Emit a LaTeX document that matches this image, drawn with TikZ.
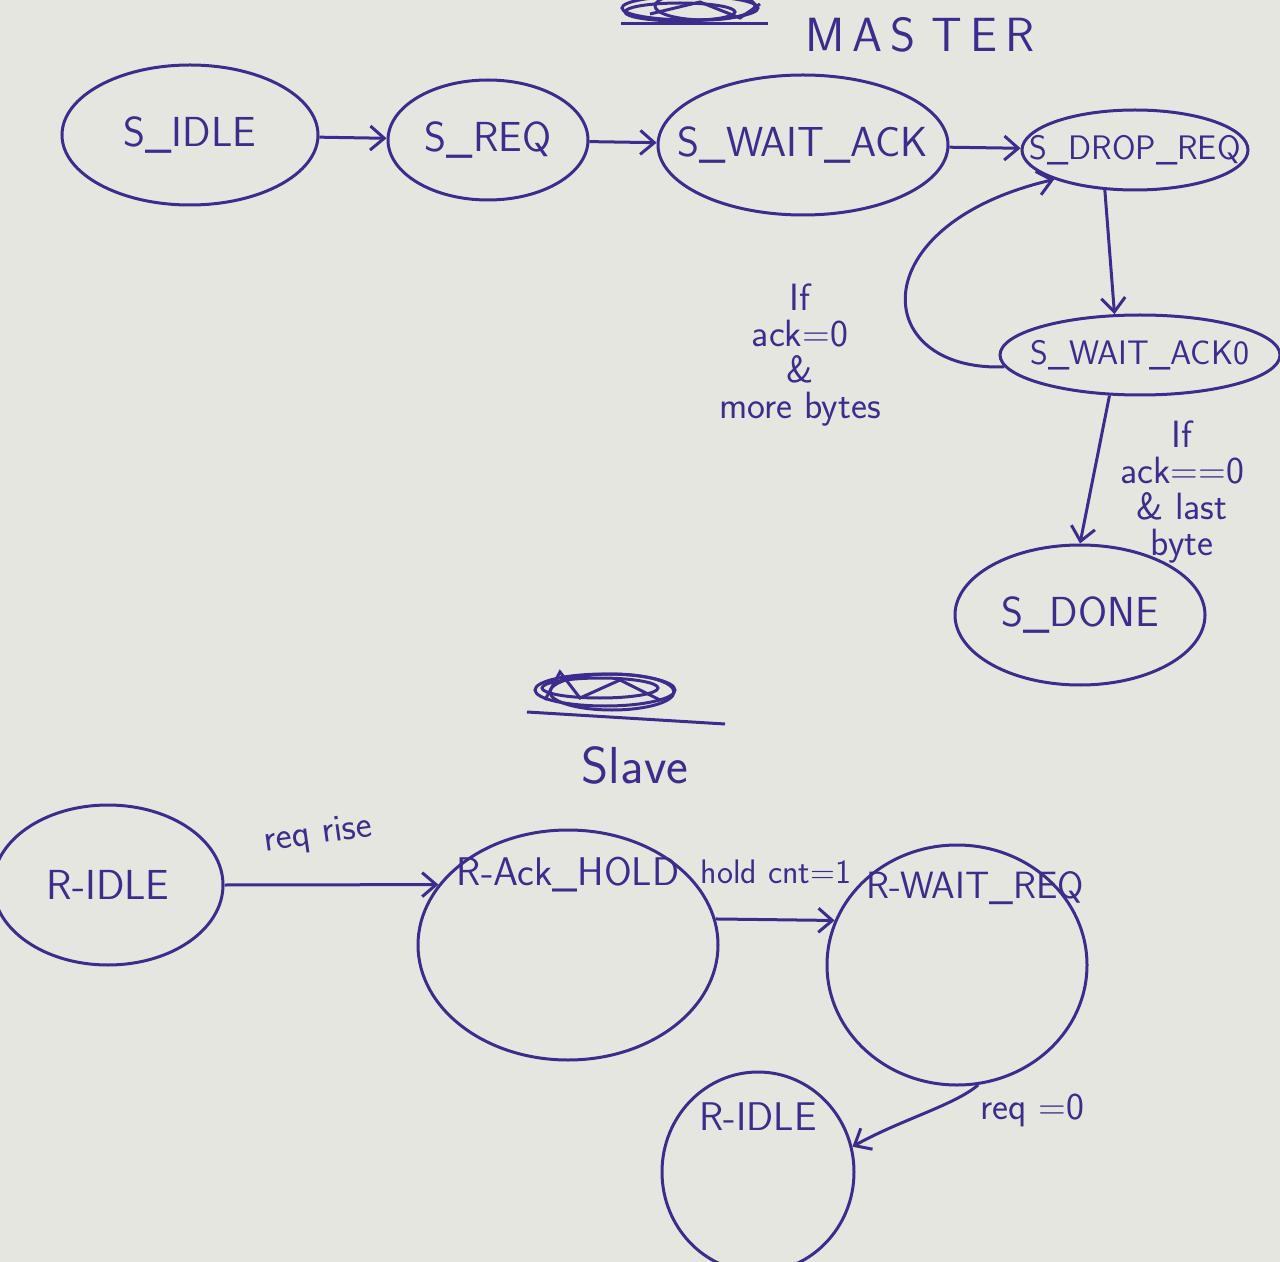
\documentclass[tikz,border=0pt]{standalone}
\usepackage{tikz}
\usetikzlibrary{shapes.geometric,arrows.meta,positioning}
\definecolor{ink}{RGB}{62,44,140}
\definecolor{paper}{RGB}{230,230,225}

\begin{document}
\begin{tikzpicture}[x=0.5pt,y=0.5pt,yscale=-1,xscale=1,
    state/.style={draw=ink, line width=1.5pt, ellipse, inner ysep=0pt, inner xsep=-14pt, text=ink, font=\sffamily\fontsize{21}{25}\selectfont},
    small/.style={font=\sffamily\fontsize{17}{20}\selectfont},
    stxt/.style={text=ink, inner sep=0pt, font=\sffamily\fontsize{20}{24}\selectfont},
    cond/.style={text=ink, inner sep=1pt, align=center, font=\sffamily\fontsize{19}{18}\selectfont},
    arr/.style={draw=ink, line width=1.5pt, -{Straight Barb[length=7pt,width=12pt]}},
    pen/.style={draw=ink, line width=1.5pt}]
    % paper
    \fill[paper] (0,0) rectangle (1280,1262);
    \useasboundingbox (0,0) rectangle (1280,1262);
    \clip (0,0) rectangle (1280,1262);

    %Titles
    \draw[pen] (690,8) ellipse [x radius=68, y radius=12];
    \draw[pen] (680,12) ellipse [x radius=55, y radius=9];
    \draw[pen] (705,6) ellipse [x radius=50, y radius=14];
    \draw[pen] (650,14) -- (700,2) -- (740,18) -- (760,4);
    \draw[pen] (621,24) -- (768,24);
    \node[stxt, font=\sffamily\fontsize{24}{28}\selectfont] (master) at (920,35) {M\,A\,S\,\,T\,E\,R};

    \draw[pen] (605,690) ellipse [x radius=70, y radius=16];
    \draw[pen] (600,688) ellipse [x radius=58, y radius=10];
    \draw[pen] (612,692) ellipse [x radius=62, y radius=18];
    \draw[pen] (545,700) -- (560,672) -- (580,698) -- (620,680) -- (660,700);
    \draw[pen] (527,712) -- (725,724);
    \node[stxt, font=\sffamily\fontsize{26}{30}\selectfont] (slave) at (635,765) {Slave};

    %Master states
    \node[state, minimum width=128pt, minimum height=70pt] (sidle) at (190,135) {S\_IDLE};
    \node[state, minimum width=100pt, minimum height=60pt] (sreq) at (488,140) {S\_REQ};
    \node[state, minimum width=145pt, minimum height=70pt] (swait) at (803,145) {S\_WAIT\_ACK};
    \node[state, small, minimum width=113pt, minimum height=40pt] (sdrop) at (1135,150) {S\_DROP\_REQ};
    \node[state, small, minimum width=140pt, minimum height=40pt] (swaitz) at (1140,355) {S\_WAIT\_ACK0};
    \node[state, minimum width=125pt, minimum height=70pt] (sdone) at (1080,615) {S\_DONE};

    %Master transitions
    \draw[arr] (sidle) -- (sreq);
    \draw[arr] (sreq) -- (swait);
    \draw[arr] (swait) -- (sdrop);
    \draw[arr] (sdrop.233) -- (swaitz.122);
    \draw[arr] (swaitz.185) .. controls (870,372) and (860,225) .. (sdrop.200);
    \draw[arr] (swaitz.233) -- (sdone.north);

    % Text Node
    \node[cond] (cmore) at (800,355) {If\\ack=0\\\&\\more bytes};
    % Text Node
    \node[cond] (clast) at (1182,492) {If\\ack==0\\\& last\\byte};

    %Slave states
    \node[state, minimum width=115pt, minimum height=80pt] (ridle) at (108,885) {R-IDLE};
    \node[state, minimum width=150pt, minimum height=115pt] (hold) at (568,945) {};
    \node[stxt, below=14pt of hold.north] (holdtxt) {R-Ack\_HOLD};
    \node[state, minimum width=130pt, minimum height=120pt] (rwait) at (957,965) {};
    \node[stxt, below=14pt of rwait.north, xshift=9pt, font=\sffamily\fontsize{19}{23}\selectfont] (rwaittxt) {R-WAIT\_REQ};
    \node[state, minimum width=96pt, minimum height=100pt] (ridleb) at (758,1172) {};
    \node[stxt, below=16pt of ridleb.north] (ridlebtxt) {R-IDLE};

    %Slave transitions
    \draw[arr] (ridle.east) -- (hold.155);
    \draw[arr] (hold.10) -- (rwait.160);
    \draw[arr] (rwait.-80) .. controls (955,1105) and (900,1120) .. (ridleb.15);

    % Text Node
    \node[cond, rotate=8] (crise) at (318,835) {req rise};
    % Text Node
    \node[cond, font=\sffamily\fontsize{17}{20}\selectfont] (ccnt) at (776,872) {hold cnt=1};
    % Text Node
    \node[cond] (czero) at (1032,1110) {req =0};
\end{tikzpicture}
\end{document}
